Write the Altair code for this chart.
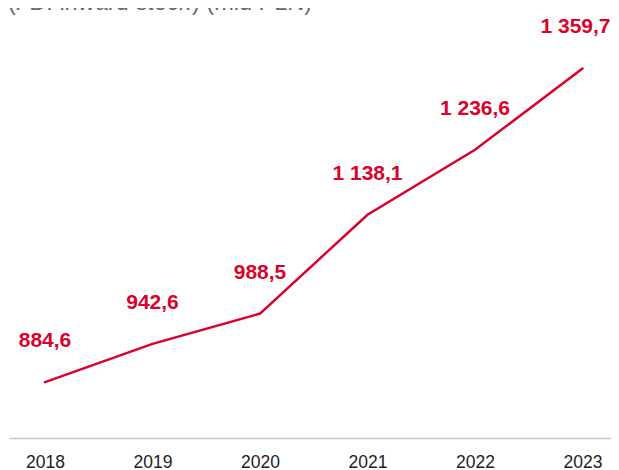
import altair as alt
import pandas as pd

years = [2018, 2019, 2020, 2021, 2022, 2023]
values = [884.6, 942.6, 988.5, 1138.1, 1236.6, 1359.7]
labels = [f"{v:,.1f}".replace(",", " ").replace(".", ",") for v in values]

title_open = "("
title_italic = "FDI inward stock"
title_rest = ") (mld PLN)"

df = pd.DataFrame({"year": years, "value": values, "label": labels})

RED = "#d9022c"
FONT = "Liberation Sans"

x = alt.X("year:Q",
          scale=alt.Scale(domain=[2017.665, 2023.265], nice=False, zero=False),
          axis=alt.Axis(values=years, format="d", title=None, ticks=False, grid=False,
                        domainColor="#c8c8c8", domainWidth=1.5,
                        labelFontSize=17.5, labelColor="#222222", labelFont=FONT,
                        labelPadding=15, labelFlush=False, labelOverlap=False))
y = alt.Y("value:Q", scale=alt.Scale(domain=[800, 1451.3], nice=False, zero=False), axis=None)

base = alt.Chart(df)

line = base.mark_line(color=RED, strokeWidth=2.5, strokeCap="round").encode(x=x, y=y)

text_style = dict(align="center", baseline="middle", font=FONT,
                  fontWeight="bold", fontSize=21, color=RED)
text = base.mark_text(dy=-41, **text_style).encode(
    x=x, y=y, text="label:N").transform_filter(alt.datum.year < 2023)
text_last = base.mark_text(dy=-41, dx=-7, **text_style).encode(
    x=x, y=y, text="label:N").transform_filter(alt.datum.year == 2023)

one = alt.Data(values=[{"a": 1}])
t1 = alt.Chart(one).mark_text(text=title_open, align="left", baseline="alphabetic", font=FONT,
                              fontSize=23.5, color="#666666").encode(x=alt.value(-1), y=alt.value(2))
t2 = alt.Chart(one).mark_text(text=title_italic, align="left", baseline="alphabetic", font=FONT,
                              fontSize=23.5, fontStyle="italic", color="#666666").encode(x=alt.value(7), y=alt.value(2))
t3 = alt.Chart(one).mark_text(text=title_rest, align="left", baseline="alphabetic", font=FONT,
                              fontSize=23.5, color="#666666").encode(x=alt.value(183), y=alt.value(2))

chart = alt.layer(line, text, text_last, t1, t2, t3).properties(
    width=602, height=430,
    background="white",
    autosize=alt.AutoSizeParams(type="none"),
    padding={"left": 1, "top": 0, "right": 0, "bottom": 31},
).configure_view(stroke=None, strokeWidth=0)

chart.save("out.html", embed_options={"renderer": "svg", "actions": False})
